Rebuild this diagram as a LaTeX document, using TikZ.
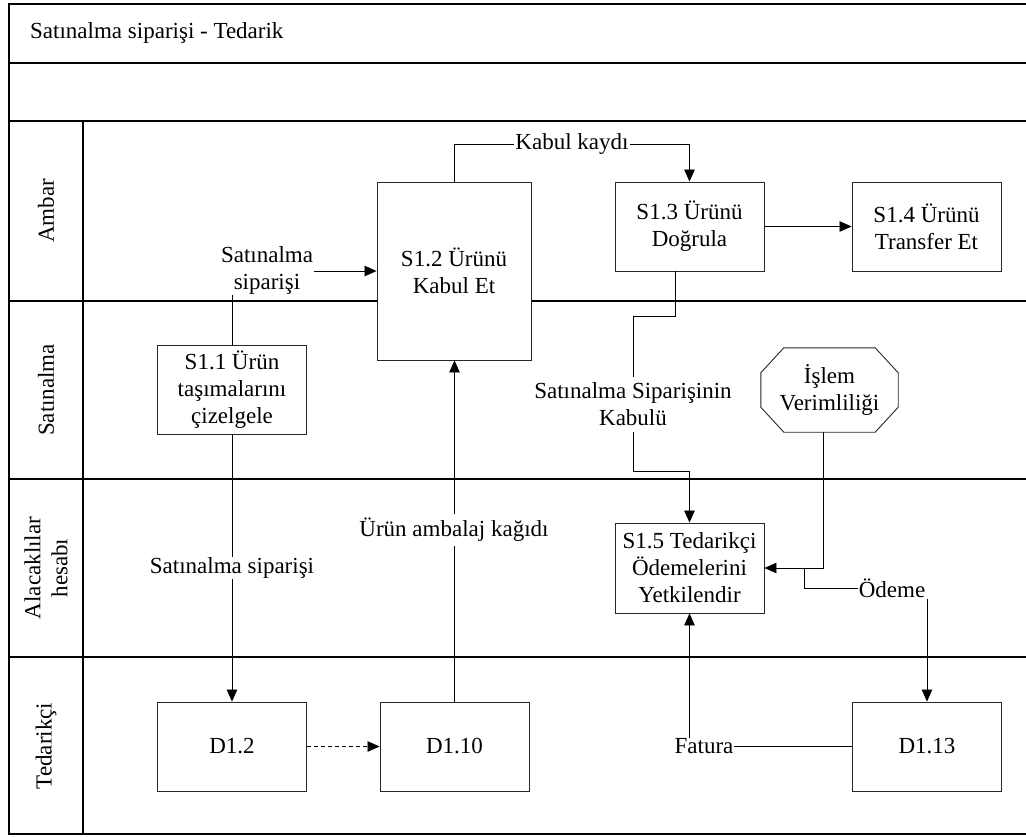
\documentclass[tikz,border=0pt]{standalone}
\usepackage{fontspec}
\setmainfont{Liberation Serif}
\usetikzlibrary{arrows.meta,calc}
\begin{document}
\begin{tikzpicture}[x=1pt,y=-1pt,
  every node/.style={font=\fontsize{23}{27}\selectfont},
  lane/.style={line width=1.1pt, draw=black},
  box/.style={draw=black!85, line width=0.9pt, fill=white, minimum width=149pt, minimum height=89pt, align=center, inner sep=2pt},
  lbl/.style={fill=white, align=center, inner sep=1pt},
  con/.style={line width=0.8pt, draw=black},
  arr/.style={con, -{Triangle[length=12pt,width=10.5pt]}},
  lanelbl/.style={rotate=90, align=center, inner sep=0pt}]
\useasboundingbox (0,0) rectangle (1026,836);
% frame and lanes
\draw[lane] (1026,4) -- (9,4) -- (9,834) -- (1026,834);
\draw[lane] (9,63) -- (1026,63);
\draw[lane] (9,121) -- (1026,121);
\draw[lane] (9,301) -- (1026,301);
\draw[lane] (9,479) -- (1026,479);
\draw[lane] (9,657) -- (1026,657);
\draw[lane] (83,121) -- (83,834);
\node[anchor=west, inner sep=0pt] (title) at (30,33) {Satınalma siparişi - Tedarik};
\node[lanelbl] (lA) at (46,211) {Ambar};
\node[lanelbl] (lS) at (46,390) {Satınalma};
\node[lanelbl] (lH) at (46,568) {Alacaklılar\\hesabı};
\node[lanelbl] (lT) at (46,746) {Tedarikçi};
% process boxes
\node[box] (s11) at (232,389.5) {S1.1 Ürün\\taşımalarını\\çizelgele};
\node[box, minimum width=154pt, minimum height=178pt] (s12) at (454,271) {S1.2 Ürünü\\Kabul Et};
\node[box] (s13) at (689.5,226.5) {S1.3 Ürünü\\Doğrula};
\node[box] (s14) at (926.5,226.5) {S1.4 Ürünü\\Transfer Et};
\node[box, minimum height=90pt] (s15) at (689.5,568) {S1.5 Tedarikçi\\Ödemelerini\\Yetkilendir};
\node[box] (d12) at (232,746.5) {D1.2};
\node[box] (d110) at (454.5,746.5) {D1.10};
\node[box] (d113) at (927,746.5) {D1.13};
% octagon
\node[minimum width=137pt, minimum height=84pt, inner sep=0pt, align=center] (iv) at (829.5,390) {İşlem\\Verimliliği};
\draw[draw=black!85, line width=0.9pt]
  ($(iv.north west)+(23,0)$) -- ($(iv.north east)+(-23,0)$) -- ($(iv.north east)+(0,25)$)
  -- ($(iv.south east)+(0,-25)$) -- ($(iv.south east)+(-23,0)$) -- ($(iv.south west)+(23,0)$)
  -- ($(iv.south west)+(0,-25)$) -- ($(iv.north west)+(0,25)$) -- cycle;
% connectors
\draw[arr] (s11.north) |- (s12.west);
\node[lbl] (l1) at (267,270) {Satınalma\\siparişi};
\draw[arr] (s11.south) -- (d12.north);
\node[lbl] (l2) at (232,568) {Satınalma siparişi};
\draw[arr] (s12.north) |- (572,144) -| (s13.north);
\node[lbl] (l3) at (572,144) {Kabul kaydı};
\draw[arr] (s13.east) -- (s14.west);
\coordinate (sk) at ([xshift=-14.5pt]s13.south);
\draw[arr] (sk) |- (633,316) |- (689.5,471) -- (s15.north);
\node[lbl, inner ysep=6pt] (l4) at (633,404.5) {Satınalma Siparişinin\\Kabulü};
\coordinate (ivo) at ([xshift=-6.5pt]iv.south);
\draw[arr] (ivo) |- (s15.east);
\coordinate (br) at ($(s15.east)+(40,0)$);
\node[lbl] (ode) at (892,588) {Ödeme};
\draw[con] (br) |- (ode.west);
\draw[arr] (d113.north |- ode.south) -- (d113.north);
\draw[arr] (d113.west) -| (s15.south);
\node[lbl] (fat) at (704,746.5) {Fatura};
\draw[arr, dash pattern=on 4pt off 3pt] (d12.east) -- (d110.west);
\draw[arr] (d110.north) -- (d110.north |- s12.south);
\node[lbl, inner ysep=4pt] (l5) at (454,530) {Ürün ambalaj kağıdı};
\end{tikzpicture}
\end{document}
